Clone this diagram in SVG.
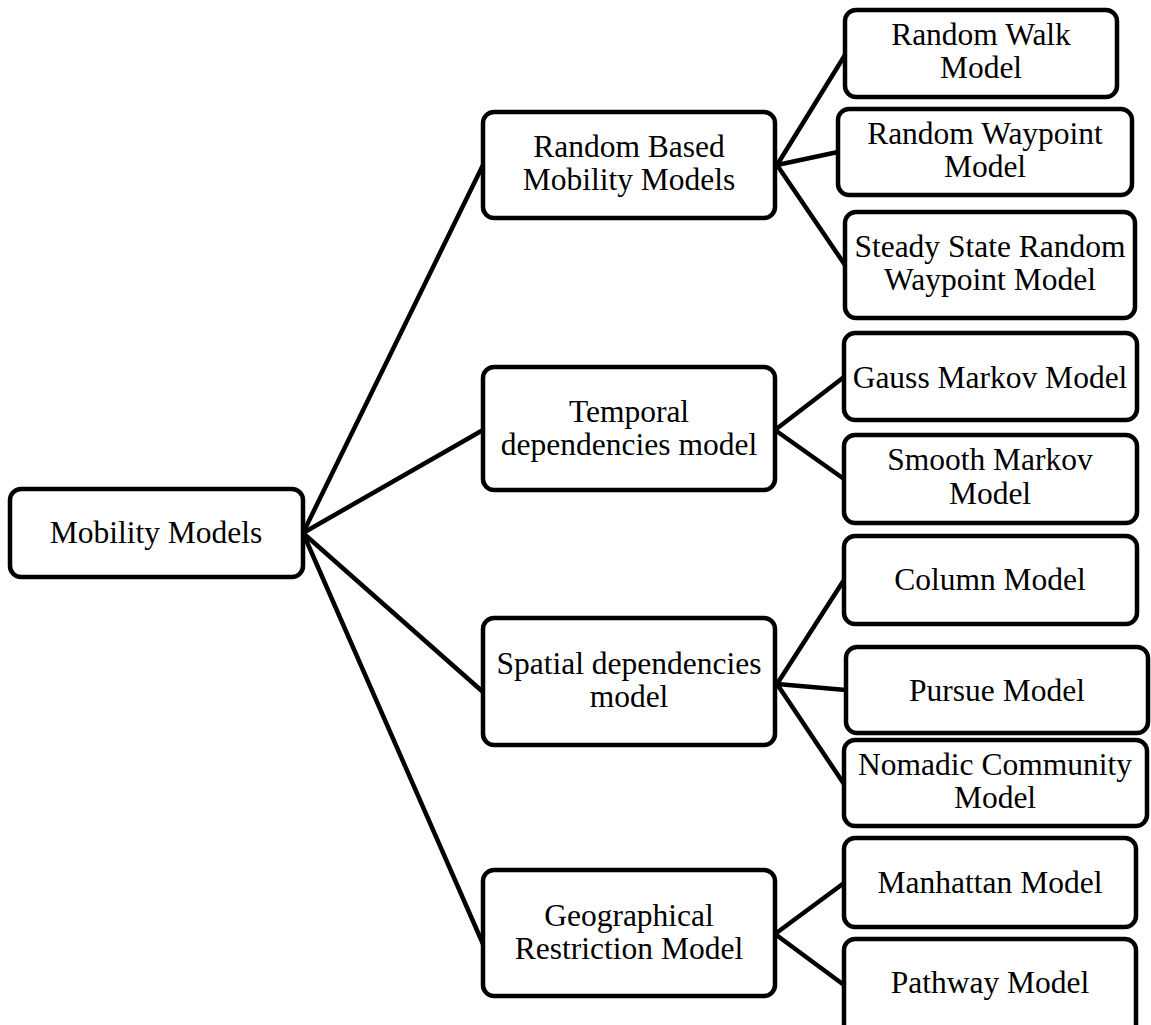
<svg xmlns="http://www.w3.org/2000/svg" width="1151" height="1025" viewBox="0 0 1151 1025">
  <style>
    .box { fill: #ffffff; stroke: #000000; stroke-width: 4.5; }
    .edge { stroke: #000000; stroke-width: 4.5; fill: none; stroke-linecap: round; }
    .label { font-family: "Liberation Serif", "Times New Roman", serif; font-size: 31.5px; fill: #000000; text-anchor: middle; }
  </style>
  <rect width="1151" height="1025" fill="#ffffff"/>

  <!-- connectors -->
  <g id="connectors">
    <line class="edge" x1="303" y1="533" x2="483" y2="165"/>
    <line class="edge" x1="303" y1="533" x2="483" y2="430"/>
    <line class="edge" x1="303" y1="533" x2="483" y2="692"/>
    <line class="edge" x1="303" y1="533" x2="483" y2="944"/>

    <line class="edge" x1="777" y1="165" x2="845" y2="55"/>
    <line class="edge" x1="777" y1="165" x2="838" y2="152"/>
    <line class="edge" x1="777" y1="165" x2="845" y2="265"/>

    <line class="edge" x1="775" y1="430" x2="844" y2="377"/>
    <line class="edge" x1="775" y1="430" x2="844" y2="479"/>

    <line class="edge" x1="777" y1="684" x2="844" y2="580"/>
    <line class="edge" x1="777" y1="684" x2="846" y2="690"/>
    <line class="edge" x1="777" y1="684" x2="844" y2="784"/>

    <line class="edge" x1="775" y1="934" x2="844" y2="883"/>
    <line class="edge" x1="775" y1="934" x2="844" y2="985"/>
  </g>

  <!-- root -->
  <g id="mobility-models">
    <rect class="box" x="10" y="489" width="293" height="88" rx="11"/>
    <text class="label" x="156" y="543">Mobility Models</text>
  </g>

  <!-- categories -->
  <g id="random-based">
    <rect class="box" x="483" y="112" width="292" height="106" rx="11"/>
    <text class="label" x="629" y="157">Random Based</text>
    <text class="label" x="629" y="190">Mobility Models</text>
  </g>
  <g id="temporal">
    <rect class="box" x="483" y="367" width="292" height="123" rx="11"/>
    <text class="label" x="629" y="422">Temporal</text>
    <text class="label" x="629" y="455">dependencies model</text>
  </g>
  <g id="spatial">
    <rect class="box" x="483" y="618" width="292" height="127" rx="11"/>
    <text class="label" x="629" y="674">Spatial dependencies</text>
    <text class="label" x="629" y="707">model</text>
  </g>
  <g id="geographical">
    <rect class="box" x="483" y="870" width="292" height="126" rx="11"/>
    <text class="label" x="629" y="926">Geographical</text>
    <text class="label" x="629" y="959">Restriction Model</text>
  </g>

  <!-- leaf models -->
  <g id="random-walk">
    <rect class="box" x="845" y="10" width="272" height="87" rx="11"/>
    <text class="label" x="981" y="45">Random Walk</text>
    <text class="label" x="981" y="78">Model</text>
  </g>
  <g id="random-waypoint">
    <rect class="box" x="838" y="109" width="294" height="86" rx="11"/>
    <text class="label" x="985" y="144">Random Waypoint</text>
    <text class="label" x="985" y="177">Model</text>
  </g>
  <g id="steady-state">
    <rect class="box" x="845" y="212" width="290" height="106" rx="11"/>
    <text class="label" x="990" y="257">Steady State Random</text>
    <text class="label" x="990" y="290">Waypoint Model</text>
  </g>
  <g id="gauss-markov">
    <rect class="box" x="844" y="333" width="293" height="87" rx="11"/>
    <text class="label" x="990" y="388">Gauss Markov Model</text>
  </g>
  <g id="smooth-markov">
    <rect class="box" x="844" y="435" width="293" height="88" rx="11"/>
    <text class="label" x="990" y="470">Smooth Markov</text>
    <text class="label" x="990" y="504">Model</text>
  </g>
  <g id="column">
    <rect class="box" x="844" y="536" width="293" height="88" rx="11"/>
    <text class="label" x="990" y="590">Column Model</text>
  </g>
  <g id="pursue">
    <rect class="box" x="846" y="647" width="302" height="86" rx="11"/>
    <text class="label" x="997" y="701">Pursue Model</text>
  </g>
  <g id="nomadic">
    <rect class="box" x="844" y="740" width="303" height="86" rx="11"/>
    <text class="label" x="995" y="775">Nomadic Community</text>
    <text class="label" x="995" y="808">Model</text>
  </g>
  <g id="manhattan">
    <rect class="box" x="844" y="838" width="292" height="89" rx="11"/>
    <text class="label" x="990" y="893">Manhattan Model</text>
  </g>
  <g id="pathway">
    <rect class="box" x="844" y="939" width="292" height="100" rx="11"/>
    <text class="label" x="990" y="993">Pathway Model</text>
  </g>
</svg>
